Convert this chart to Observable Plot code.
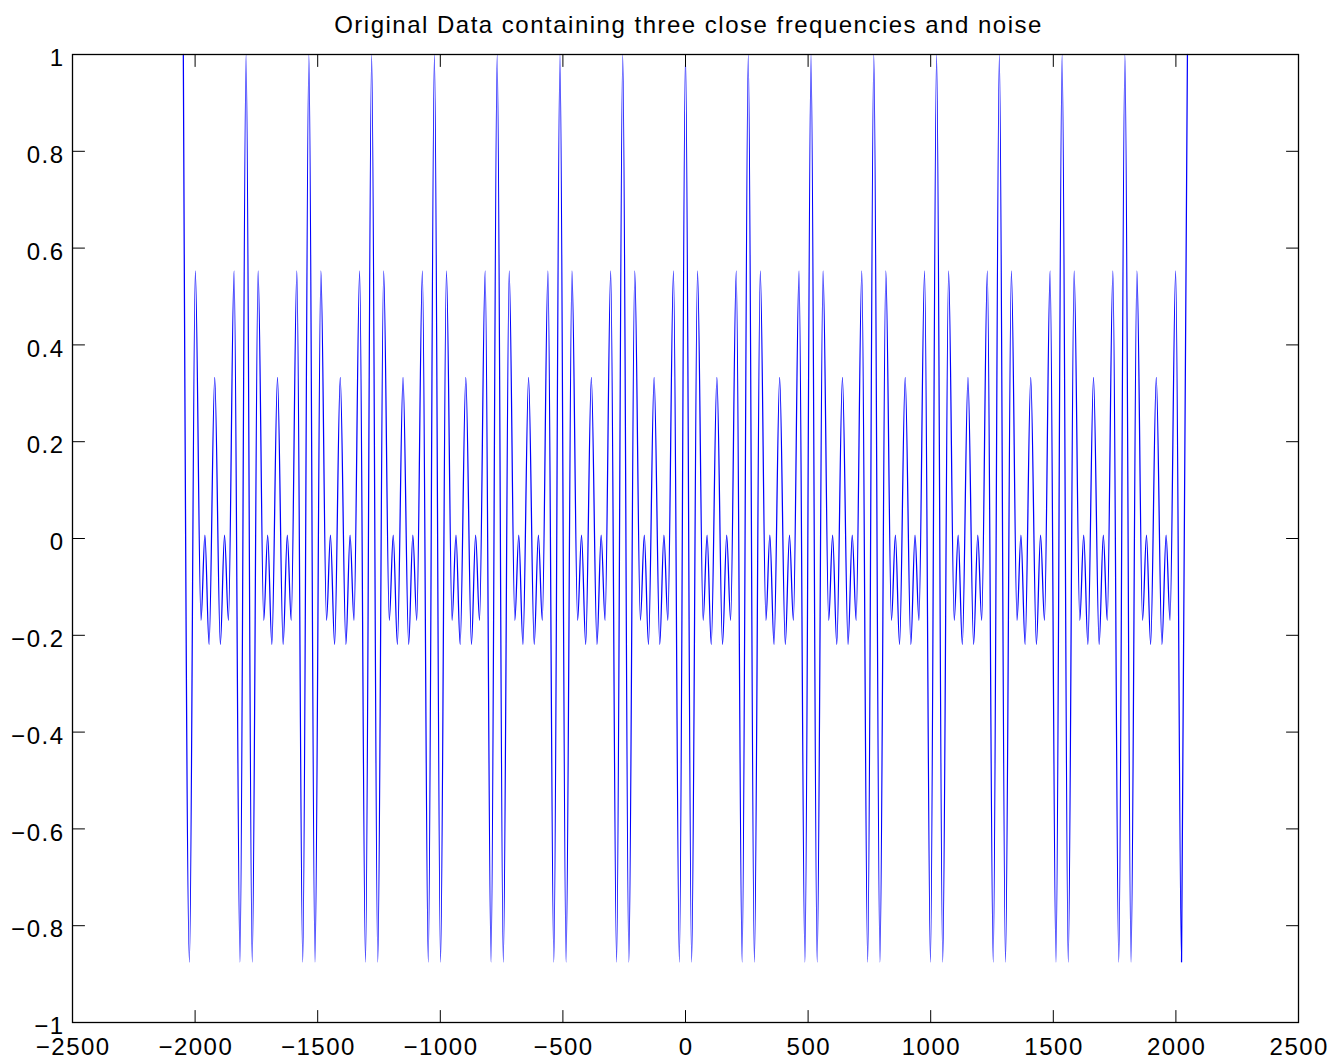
<!DOCTYPE html>
<html><head><meta charset="utf-8">
<script src="https://cdn.jsdelivr.net/npm/d3@7"></script>
<script src="https://cdn.jsdelivr.net/npm/@observablehq/plot@0.6"></script>
<style>body{margin:0;background:#fff}</style>
</head><body><div id="chart"></div>
<script>
const titleText = "Original Data containing three close frequencies and noise";
const xTicks = [-2500, -2000, -1500, -1000, -500, 0, 500, 1000, 1500, 2000, 2500];
const xTickLabels = ["\u22122500", "\u22122000", "\u22121500", "\u22121000", "\u2212500", "0", "500", "1000", "1500", "2000", "2500"];
const yTicks = [-1, -0.8, -0.6, -0.4, -0.2, 0, 0.2, 0.4, 0.6, 0.8, 1];
const yTickLabels = ["\u22121", "\u22120.8", "\u22120.6", "\u22120.4", "\u22120.2", "0", "0.2", "0.4", "0.6", "0.8", "1"];

// local extrema of the signal
const sampleX = [
  -2048, -2023, -1999, -1976, -1960, -1943, -1920, -1897, -1880, -1864, -1841, -1817,
  -1792, -1767, -1743, -1720, -1704, -1687, -1664, -1641, -1624, -1608, -1585, -1561,
  -1536, -1511, -1487, -1464, -1448, -1431, -1408, -1385, -1368, -1352, -1329, -1305,
  -1280, -1255, -1231, -1208, -1192, -1175, -1152, -1129, -1112, -1096, -1073, -1049,
  -1024, -999, -975, -952, -936, -919, -896, -873, -856, -840, -817, -793,
  -768, -743, -719, -696, -680, -663, -640, -617, -600, -584, -561, -537,
  -512, -487, -463, -440, -424, -407, -384, -361, -344, -328, -305, -281,
  -256, -231, -207, -184, -168, -151, -128, -105, -88, -72, -49, -25,
  0, 25, 49, 72, 88, 105, 128, 151, 168, 184, 207, 231,
  256, 281, 305, 328, 344, 361, 384, 407, 424, 440, 463, 487,
  512, 537, 561, 584, 600, 617, 640, 663, 680, 696, 719, 743,
  768, 793, 817, 840, 856, 873, 896, 919, 936, 952, 975, 999,
  1024, 1049, 1073, 1096, 1112, 1129, 1152, 1175, 1192, 1208, 1231, 1255,
  1280, 1305, 1329, 1352, 1368, 1385, 1408, 1431, 1448, 1464, 1487, 1511,
  1536, 1561, 1585, 1608, 1624, 1641, 1664, 1687, 1704, 1720, 1743, 1767,
  1792, 1817, 1841, 1864, 1880, 1897, 1920, 1943, 1960, 1976, 1999, 2023,
  2047
];
const sampleY = [
  1, -0.875, 0.553, -0.169, 0.007, -0.219, 0.333, -0.219, 0.007, -0.169, 0.553, -0.875,
  1, -0.875, 0.553, -0.169, 0.007, -0.219, 0.333, -0.219, 0.007, -0.169, 0.553, -0.875,
  1, -0.875, 0.553, -0.169, 0.007, -0.219, 0.333, -0.219, 0.007, -0.169, 0.553, -0.875,
  1, -0.875, 0.553, -0.169, 0.007, -0.219, 0.333, -0.219, 0.007, -0.169, 0.553, -0.875,
  1, -0.875, 0.553, -0.169, 0.007, -0.219, 0.333, -0.219, 0.007, -0.169, 0.553, -0.875,
  1, -0.875, 0.553, -0.169, 0.007, -0.219, 0.333, -0.219, 0.007, -0.169, 0.553, -0.875,
  1, -0.875, 0.553, -0.169, 0.007, -0.219, 0.333, -0.219, 0.007, -0.169, 0.553, -0.875,
  1, -0.875, 0.553, -0.169, 0.007, -0.219, 0.333, -0.219, 0.007, -0.169, 0.553, -0.875,
  1, -0.875, 0.553, -0.169, 0.007, -0.219, 0.333, -0.219, 0.007, -0.169, 0.553, -0.875,
  1, -0.875, 0.553, -0.169, 0.007, -0.219, 0.333, -0.219, 0.007, -0.169, 0.553, -0.875,
  1, -0.875, 0.553, -0.169, 0.007, -0.219, 0.333, -0.219, 0.007, -0.169, 0.553, -0.875,
  1, -0.875, 0.553, -0.169, 0.007, -0.219, 0.333, -0.219, 0.007, -0.169, 0.553, -0.875,
  1, -0.875, 0.553, -0.169, 0.007, -0.219, 0.333, -0.219, 0.007, -0.169, 0.553, -0.875,
  1, -0.875, 0.553, -0.169, 0.007, -0.219, 0.333, -0.219, 0.007, -0.169, 0.553, -0.875,
  1, -0.875, 0.553, -0.169, 0.007, -0.219, 0.333, -0.219, 0.007, -0.169, 0.553, -0.875,
  1, -0.875, 0.553, -0.169, 0.007, -0.219, 0.333, -0.219, 0.007, -0.169, 0.553, -0.875,
  1
];

const data = sampleX.map((x, i) => ({x, y: sampleY[i]}));
const tickShape = {draw(context, l) { context.moveTo(0, 0); context.lineTo(0, -l); }};
const xMin = xTicks[0], xMax = xTicks[xTicks.length - 1];
const yMin = yTicks[0], yMax = yTicks[yTicks.length - 1];

const plot = Plot.plot({
  width: 1335,
  height: 1064,
  marginLeft: 72,
  marginRight: 37,
  marginTop: 54,
  marginBottom: 42,
  style: {fontFamily: "'Liberation Sans', Arial, Helvetica, sans-serif", fontSize: "24px", letterSpacing: "1.5px", background: "white", color: "black", overflow: "visible"},
  x: {domain: [xMin, xMax]},
  y: {domain: [yMin, yMax]},
  marks: [
    Plot.line(data, {x: "x", y: "y", stroke: "#0000ff", strokeWidth: 1.25, curve: "monotone-x"}),
    Plot.vector(xTicks, {x: d => d, y: yMin, length: 12, rotate: 0, anchor: "start", shape: tickShape, stroke: "black", strokeWidth: 1}),
    Plot.vector(xTicks, {x: d => d, y: yMax, length: 12, rotate: 180, anchor: "start", shape: tickShape, stroke: "black", strokeWidth: 1}),
    Plot.vector(yTicks, {x: xMin, y: d => d, length: 12, rotate: 90, anchor: "start", shape: tickShape, stroke: "black", strokeWidth: 1}),
    Plot.vector(yTicks, {x: xMax, y: d => d, length: 12, rotate: 270, anchor: "start", shape: tickShape, stroke: "black", strokeWidth: 1}),
    Plot.frame({stroke: "black", strokeWidth: 1.3}),
    Plot.axisX({ticks: xTicks, tickFormat: d => xTickLabels[xTicks.indexOf(d)], tickSize: 0, tickPadding: 15.5, label: null, fontSize: 24, dx: 0.75}),
    Plot.axisY({ticks: yTicks, tickFormat: d => yTickLabels[yTicks.indexOf(d)], tickSize: 0, tickPadding: 8, label: null, fontSize: 24, dy: 4}),
    Plot.text([titleText], {text: d => d, frameAnchor: "top", lineAnchor: "bottom", dy: -22, dx: 3, fontSize: 24})
  ]
});
document.getElementById("chart").appendChild(plot);
</script>
</body></html>
